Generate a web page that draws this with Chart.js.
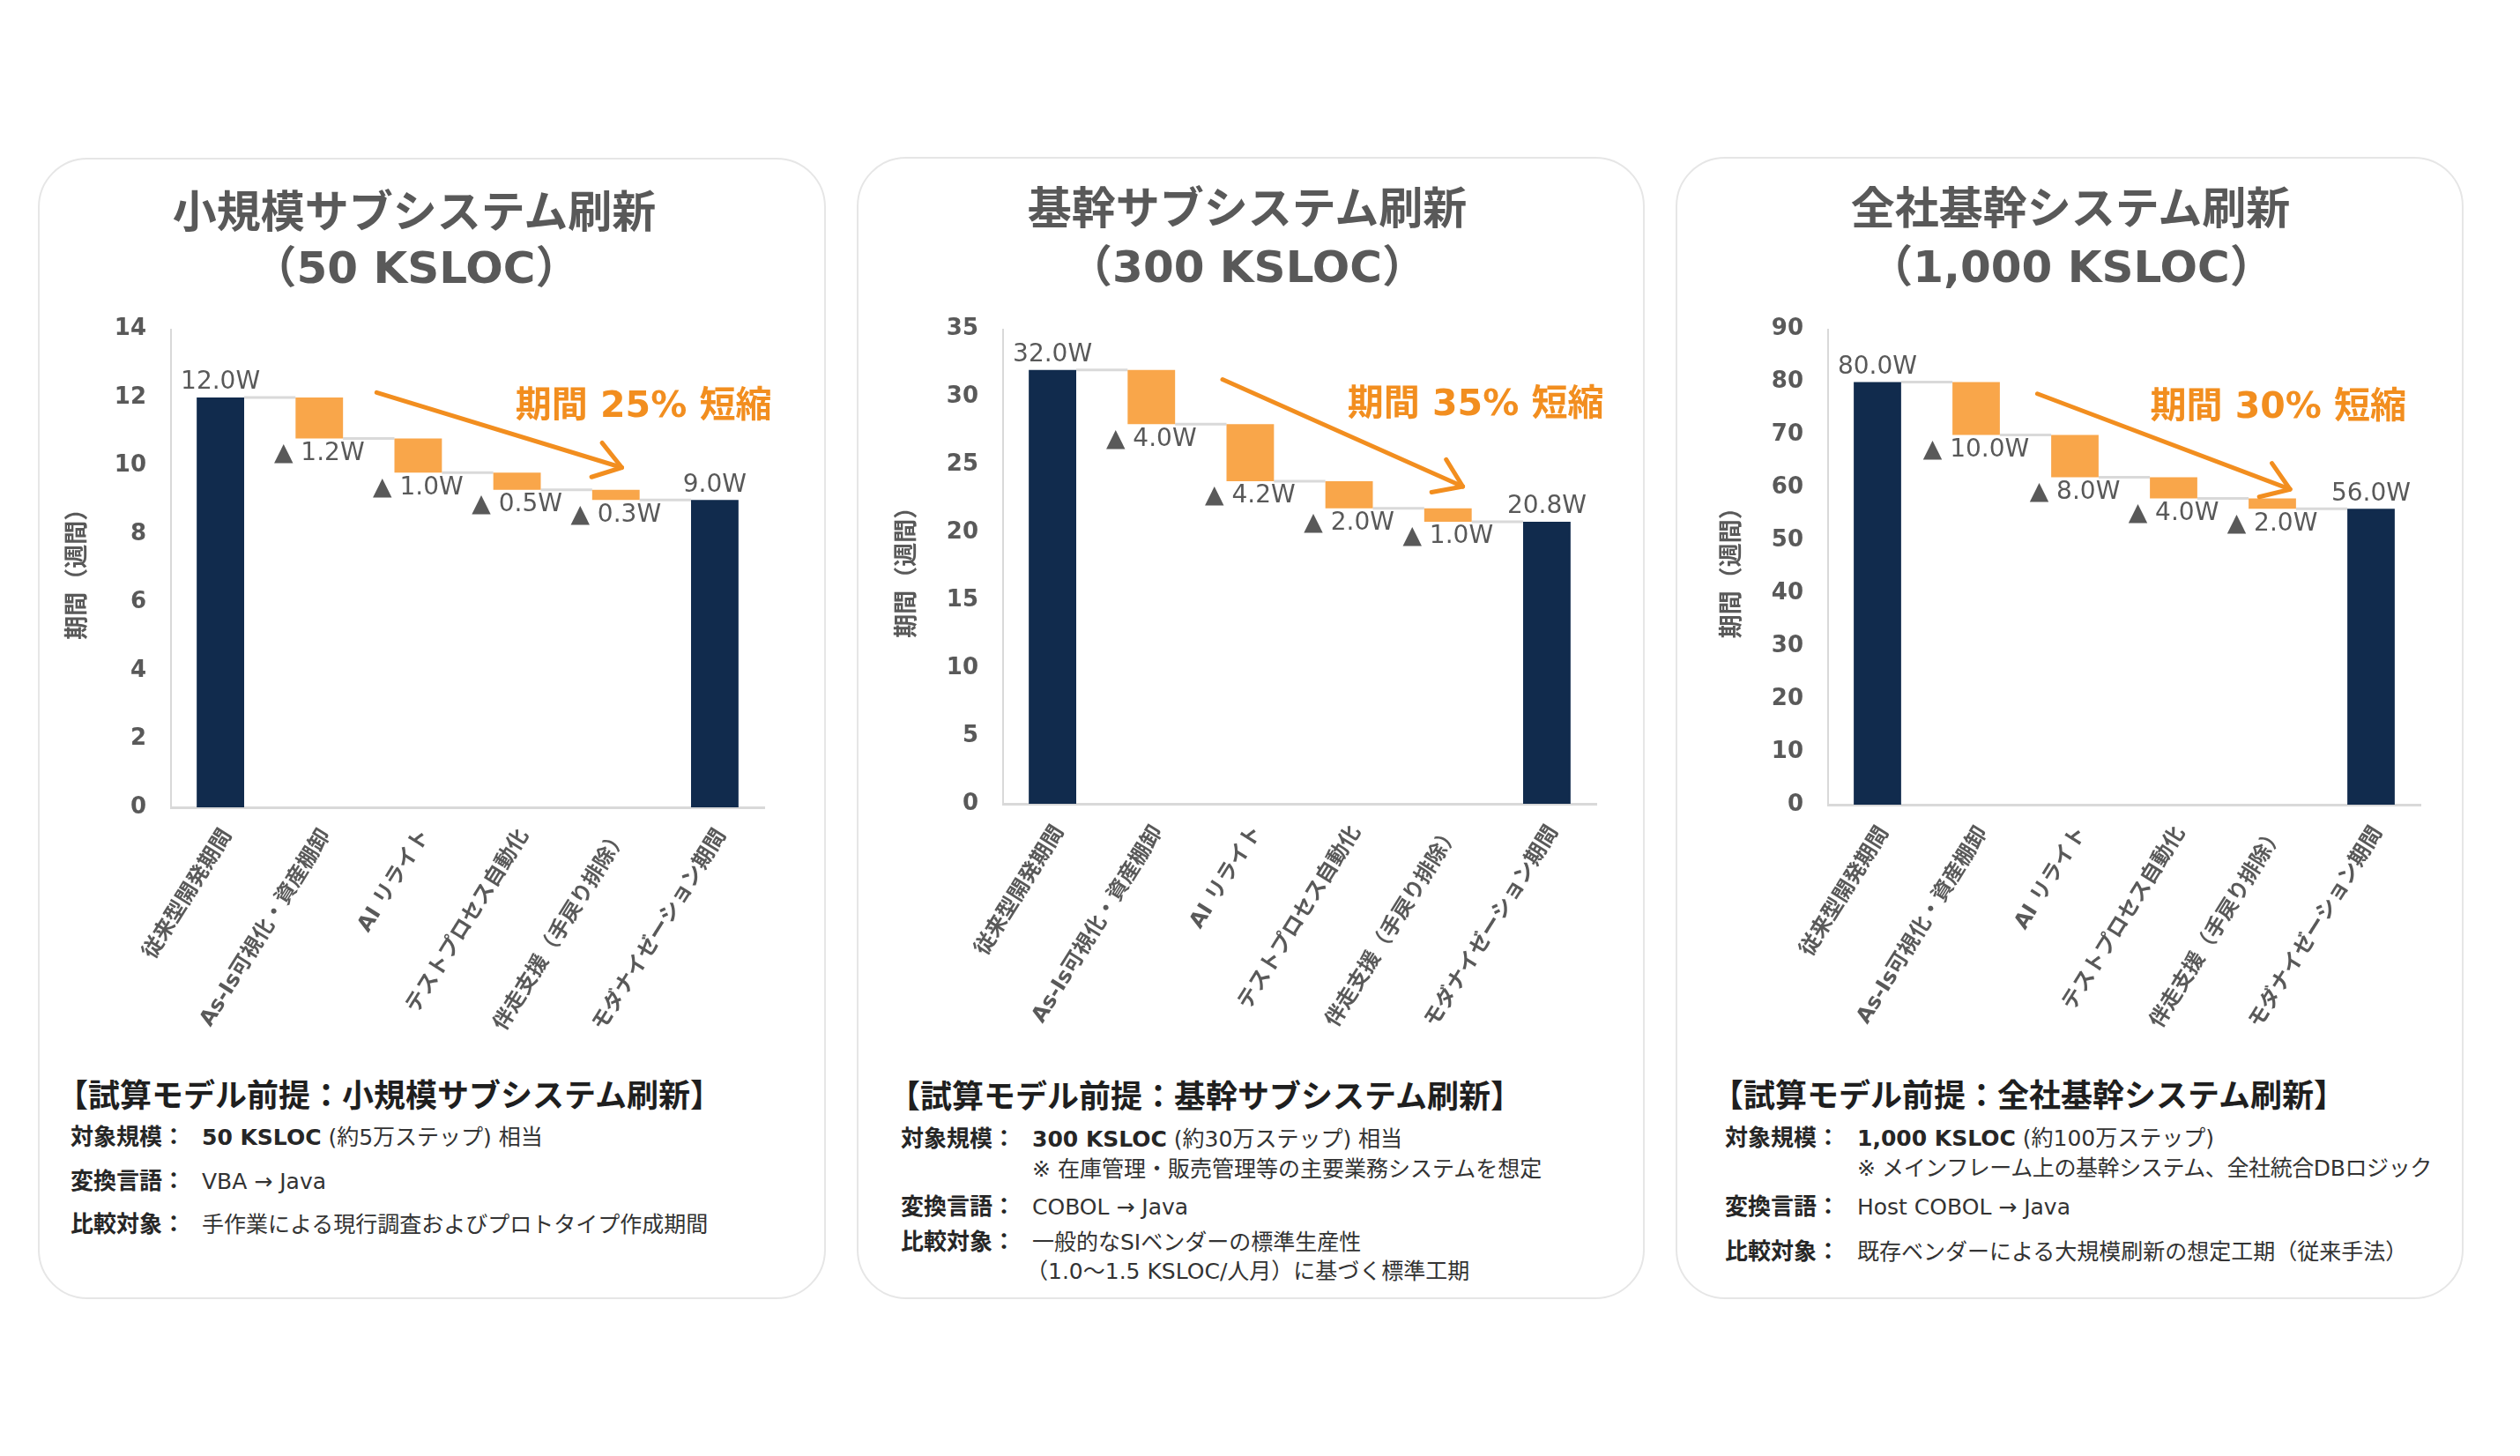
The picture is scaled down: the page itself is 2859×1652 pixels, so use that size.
<!DOCTYPE html>
<html><head><meta charset="utf-8">
<script src="https://cdn.jsdelivr.net/npm/chart.js@4.4.1/dist/chart.umd.min.js"></script>
<style>
html,body{margin:0;padding:0;background:#fff;}
body{width:2859px;height:1652px;position:relative;overflow:hidden;font-family:'DejaVu Sans','Noto Sans CJK JP',sans-serif;}
.card{position:absolute;border:2px solid #e6e6e6;border-radius:56px;background:#fff;box-sizing:border-box;}
.title{position:absolute;font-weight:bold;color:#595959;font-size:50px;white-space:nowrap;transform:translate(-50%,-50%);line-height:1.1;}
canvas{position:absolute;}
.txt{position:absolute;white-space:nowrap;color:#333;font-size:25px;line-height:1.2;transform:translateY(-50%);}
.lab{font-weight:bold;color:#262626;font-size:26px;}
.head{font-weight:bold;color:#1f1f1f;font-size:36px;}
b{font-weight:bold;color:#262626;}
</style></head>
<body>
<div class="card" style="left:43px;top:179px;width:894px;height:1295px;"></div>
<div class="card" style="left:972px;top:178px;width:894px;height:1296px;"></div>
<div class="card" style="left:1901px;top:178px;width:894px;height:1296px;"></div>

<div class="title" style="left:470px;top:241px;">小規模サブシステム刷新</div>
<div class="title" style="left:472px;top:304px;">（50 KSLOC）</div>
<div class="title" style="left:1415px;top:237px;">基幹サブシステム刷新</div>
<div class="title" style="left:1415px;top:303px;">（300 KSLOC）</div>
<div class="title" style="left:2349px;top:237px;">全社基幹システム刷新</div>
<div class="title" style="left:2350px;top:303px;">（1,000 KSLOC）</div>

<canvas id="c1" width="894" height="880" style="left:43px;top:330px;"></canvas>
<canvas id="c2" width="894" height="880" style="left:972px;top:330px;"></canvas>
<canvas id="c3" width="894" height="880" style="left:1901px;top:330px;"></canvas>

<div class="txt head" style="left:64px;top:1244px;">【試算モデル前提：小規模サブシステム刷新】</div>
<div class="txt lab" style="left:80px;top:1291px;">対象規模：</div>
<div class="txt" style="left:229px;top:1291px;"><b>50 KSLOC</b> (約5万ステップ) 相当</div>
<div class="txt lab" style="left:80px;top:1341px;">変換言語：</div>
<div class="txt" style="left:229px;top:1341px;">VBA → Java</div>
<div class="txt lab" style="left:80px;top:1390px;">比較対象：</div>
<div class="txt" style="left:229px;top:1390px;">手作業による現行調査およびプロトタイプ作成期間</div>

<div class="txt head" style="left:1008px;top:1245px;">【試算モデル前提：基幹サブシステム刷新】</div>
<div class="txt lab" style="left:1022px;top:1293px;">対象規模：</div>
<div class="txt" style="left:1171px;top:1293px;"><b>300 KSLOC</b> (約30万ステップ) 相当</div>
<div class="txt" style="left:1171px;top:1327px;">※ 在庫管理・販売管理等の主要業務システムを想定</div>
<div class="txt lab" style="left:1022px;top:1370px;">変換言語：</div>
<div class="txt" style="left:1171px;top:1370px;">COBOL → Java</div>
<div class="txt lab" style="left:1022px;top:1410px;">比較対象：</div>
<div class="txt" style="left:1171px;top:1410px;">一般的なSIベンダーの標準生産性</div>
<div class="txt" style="left:1164px;top:1443px;">（1.0～1.5 KSLOC/人月）に基づく標準工期</div>

<div class="txt head" style="left:1942px;top:1244px;">【試算モデル前提：全社基幹システム刷新】</div>
<div class="txt lab" style="left:1957px;top:1292px;">対象規模：</div>
<div class="txt" style="left:2107px;top:1292px;"><b>1,000 KSLOC</b> (約100万ステップ)</div>
<div class="txt" style="left:2107px;top:1326px;letter-spacing:-0.4px;">※ メインフレーム上の基幹システム、全社統合DBロジック</div>
<div class="txt lab" style="left:1957px;top:1370px;">変換言語：</div>
<div class="txt" style="left:2107px;top:1370px;">Host COBOL → Java</div>
<div class="txt lab" style="left:1957px;top:1421px;">比較対象：</div>
<div class="txt" style="left:2107px;top:1421px;">既存ベンダーによる大規模刷新の想定工期（従来手法）</div>

<script>
// ---- data ----
const categories = ['従来型開発期間', 'As-Is可視化・資産棚卸', 'AI リライト', 'テストプロセス自動化', '伴走支援（手戻り排除）', 'モダナイゼーション期間'];
const smallValues = [12.0, 1.2, 1.0, 0.5, 0.3, 9.0];
const coreValues = [32.0, 4.0, 4.2, 2.0, 1.0, 20.8];
const enterpriseValues = [80.0, 10.0, 8.0, 4.0, 2.0, 56.0];
const smallTicks = [0, 2, 4, 6, 8, 10, 12, 14];
const coreTicks = [0, 5, 10, 15, 20, 25, 30, 35];
const enterpriseTicks = [0, 10, 20, 30, 40, 50, 60, 70, 80, 90];
const reductionPct = [25, 35, 30];
const yAxisTitle = '期間（週間）';

// ---- styles ----
const NAVY = '#112B4D';
const ORANGE = '#F9A64A';
const ORANGE_DARK = '#F28E1F';
const GREY_TXT = '#595959';
const FONT = "'DejaVu Sans','Noto Sans CJK JP',sans-serif";

function floating(vals) {
  const out = [[0, vals[0]]];
  let run = vals[0];
  for (let i = 1; i < vals.length - 1; i++) {
    const hi = run;
    run = Math.round((run - vals[i]) * 1000) / 1000;
    out.push([run, hi]);
  }
  out.push([0, vals[vals.length - 1]]);
  return out;
}

const waterfallDeco = {
  id: 'waterfallDeco',
  beforeDatasetsDraw(chart, args, opts) {
    const ctx = chart.ctx, meta = chart.getDatasetMeta(0), ys = chart.scales.y;
    const ranges = chart.data.datasets[0].data;
    ctx.save();
    ctx.strokeStyle = '#d9d9d9'; ctx.lineWidth = 3;
    for (let i = 0; i < meta.data.length - 1; i++) {
      const a = meta.data[i], b = meta.data[i + 1];
      const level = i === 0 ? ranges[0][1] : ranges[i][0];
      const py = ys.getPixelForValue(level);
      ctx.beginPath(); ctx.moveTo(a.x + a.width / 2, py); ctx.lineTo(b.x - b.width / 2, py); ctx.stroke();
    }
    ctx.restore();
  },
  afterDatasetsDraw(chart, args, opts) {
    const ctx = chart.ctx, meta = chart.getDatasetMeta(0);
    const xs = chart.scales.x, ys = chart.scales.y;
    const vals = opts.values;
    ctx.save();
    ctx.fillStyle = GREY_TXT; ctx.font = '28px ' + FONT; ctx.textAlign = 'center'; ctx.textBaseline = 'middle';
    const last = meta.data.length - 1;
    meta.data.forEach((el, i) => {
      const top = Math.min(el.y, el.base), bot = Math.max(el.y, el.base);
      if (i === 0 || i === last) ctx.fillText(vals[i].toFixed(1) + 'W', el.x, top - 17);
      else ctx.fillText('▲ ' + vals[i].toFixed(1) + 'W', el.x, bot + 17);
    });
    // arrow
    const a = opts.arrow;
    const x1 = xs.getPixelForValue(a.from[0]), y1 = ys.getPixelForValue(a.from[1]);
    const x2 = xs.getPixelForValue(a.to[0]), y2 = ys.getPixelForValue(a.to[1]);
    ctx.strokeStyle = ORANGE_DARK; ctx.lineWidth = 5; ctx.lineCap = 'round'; ctx.lineJoin = 'round';
    ctx.beginPath(); ctx.moveTo(x1, y1); ctx.lineTo(x2, y2); ctx.stroke();
    const ang = Math.atan2(y2 - y1, x2 - x1), L = 36, sp = 0.6;
    ctx.beginPath();
    ctx.moveTo(x2 - L * Math.cos(ang - sp), y2 - L * Math.sin(ang - sp));
    ctx.lineTo(x2, y2);
    ctx.lineTo(x2 - L * Math.cos(ang + sp), y2 - L * Math.sin(ang + sp));
    ctx.stroke();
    // annotation
    ctx.fillStyle = ORANGE_DARK; ctx.font = 'bold 41px ' + FONT;
    ctx.fillText(opts.label, xs.getPixelForValue(opts.labelAt[0]), ys.getPixelForValue(opts.labelAt[1]));
    ctx.restore();
  }
};

function makeChart(id, vals, ticks, pct, lay, anno) {
  const last = vals.length - 1;
  return new Chart(document.getElementById(id), {
    type: 'bar',
    data: {
      labels: categories,
      datasets: [{
        data: floating(vals),
        backgroundColor: vals.map((v, i) => (i === 0 || i === last) ? NAVY : ORANGE),
        borderWidth: 0,
        barPercentage: 0.48,
        categoryPercentage: 1
      }]
    },
    options: {
      responsive: false, animation: false, devicePixelRatio: 1, events: [],
      layout: { autoPadding: false, padding: { left: 0, top: lay.top, right: lay.right, bottom: 0 } },
      plugins: {
        legend: { display: false }, tooltip: { enabled: false },
        waterfallDeco: { values: vals, arrow: anno.arrow, label: '期間 ' + pct + '% 短縮', labelAt: anno.labelAt }
      },
      scales: {
        x: {
          grid: { display: false, drawTicks: false },
          border: { color: '#d9d9d9', width: 3 },
          ticks: { autoSkip: false, minRotation: 58, maxRotation: 58, padding: 20, labelOffset: 8, color: GREY_TXT, font: { family: FONT, size: 24, weight: 'bold' } },
          afterFit: s => { s.height = lay.xH; }
        },
        y: {
          min: 0, max: ticks[ticks.length - 1],
          grid: { display: false, drawTicks: false },
          border: { color: '#d9d9d9', width: 2 },
          ticks: { padding: 28, color: GREY_TXT, font: { family: FONT, size: 26, weight: 'bold' } },
          afterBuildTicks: s => { s.ticks = ticks.map(v => ({ value: v })); },
          afterFit: s => { s.width = lay.yW; },
          title: { display: true, text: yAxisTitle, color: GREY_TXT, font: { family: FONT, size: 27, weight: 'bold' }, padding: { top: lay.tPad, bottom: 0 } }
        }
      }
    },
    plugins: [waterfallDeco]
  });
}

makeChart('c1', smallValues, smallTicks, reductionPct[0],
  { top: 40, right: 70, xH: 294, yW: 151, tPad: 30 },
  { arrow: { from: [1.58, 12.15], to: [4.06, 9.95] }, labelAt: [4.28, 11.72] });
makeChart('c2', coreValues, coreTicks, reductionPct[1],
  { top: 37, right: 55, xH: 298, yW: 166, tPad: 42 },
  { arrow: { from: [1.72, 31.3], to: [4.15, 23.4] }, labelAt: [4.28, 29.35] });
makeChart('c3', enterpriseValues, enterpriseTicks, reductionPct[2],
  { top: 36, right: 49, xH: 297, yW: 173, tPad: 49 },
  { arrow: { from: [1.62, 77.8], to: [4.18, 59.7] }, labelAt: [4.06, 75.0] });
</script>
</body></html>
